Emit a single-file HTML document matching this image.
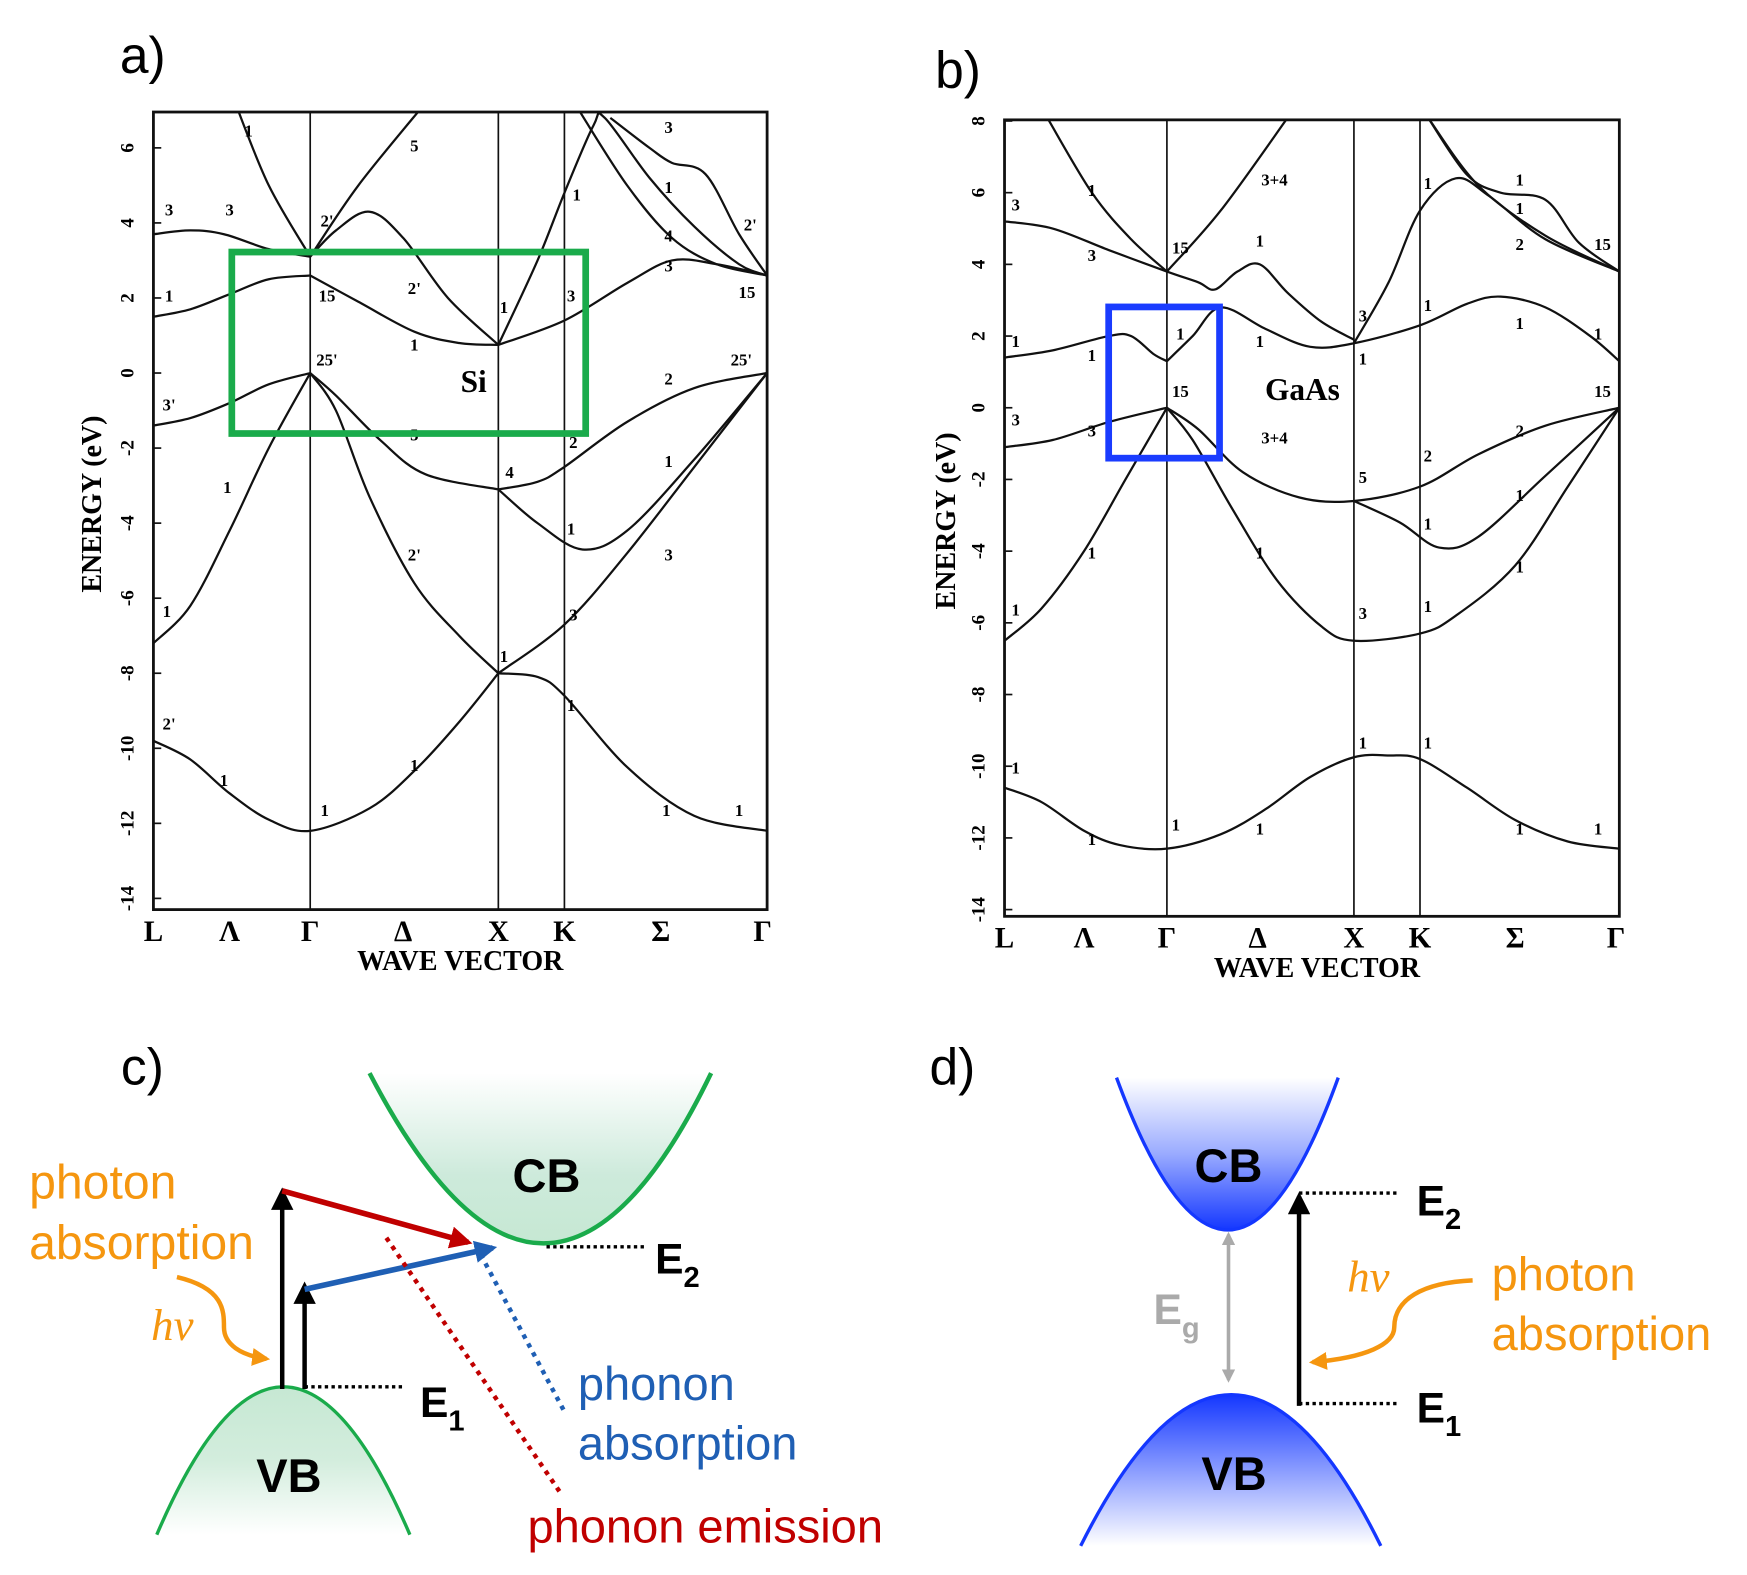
<!DOCTYPE html>
<html><head><meta charset="utf-8">
<style>
html,body{margin:0;padding:0;background:#fff;}
svg{display:block;}
.serif{font-family:"Liberation Serif",serif;font-weight:bold;}
.sans{font-family:"Liberation Sans",sans-serif;}
.hv{font-family:"Liberation Serif",serif;font-style:italic;font-weight:normal;}
</style></head>
<body>
<svg id="fig" width="1747" height="1575" viewBox="0 0 1560 1406" preserveAspectRatio="none" xmlns="http://www.w3.org/2000/svg">
<defs>
<linearGradient id="gCB" x1="0" y1="0" x2="0" y2="1"><stop offset="0" stop-color="#fff"/><stop offset="0.6" stop-color="#cdeadb"/><stop offset="1" stop-color="#c6e8d3"/></linearGradient>
<linearGradient id="gVB" x1="0" y1="0" x2="0" y2="1"><stop offset="0" stop-color="#c6e8d3"/><stop offset="0.5" stop-color="#d3eddd"/><stop offset="1" stop-color="#fff"/></linearGradient>
<linearGradient id="bCB" x1="0" y1="0" x2="0" y2="1"><stop offset="0" stop-color="#fff"/><stop offset="0.5" stop-color="#9aabff"/><stop offset="1" stop-color="#1437ff"/></linearGradient>
<linearGradient id="bVB" x1="0" y1="0" x2="0" y2="1"><stop offset="0" stop-color="#1437ff"/><stop offset="0.5" stop-color="#8a9cff"/><stop offset="1" stop-color="#fff"/></linearGradient>
<clipPath id="clipA"><rect x="137" y="100" width="548" height="712"/></clipPath>
<clipPath id="clipB"><rect x="897" y="107" width="549" height="711"/></clipPath>
<marker id="arrK" viewBox="0 0 10 10" refX="8" refY="5" markerWidth="5" markerHeight="5" orient="auto"><path d="M0,0L10,5L0,10z" fill="#000"/></marker>
<marker id="arrR" viewBox="0 0 10 10" refX="8" refY="5" markerWidth="4" markerHeight="4" orient="auto"><path d="M0,0L10,5L0,10z" fill="#c00000"/></marker>
<marker id="arrB" viewBox="0 0 10 10" refX="8" refY="5" markerWidth="4" markerHeight="4" orient="auto"><path d="M0,0L10,5L0,10z" fill="#1f5fb4"/></marker>
<marker id="arrO" viewBox="0 0 10 10" refX="8" refY="5" markerWidth="4" markerHeight="4" orient="auto"><path d="M0,0L10,5L0,10z" fill="#f5960f"/></marker>
<marker id="arrG" viewBox="0 0 10 10" refX="8" refY="5" markerWidth="4" markerHeight="4" orient="auto"><path d="M0,0L10,5L0,10z" fill="#aaa"/></marker>
</defs>

<text x="107" y="65" class="sans" font-size="46">a)</text>
<text x="835" y="78" class="sans" font-size="46">b)</text>
<text x="108" y="968" class="sans" font-size="46">c)</text>
<text x="830" y="968" class="sans" font-size="46">d)</text>

<g id="chartA"></g>
<g id="chartB"></g>

<g>
<path d="M330,958 Q488,1262 635,958 Z" fill="url(#gCB)" stroke="none"/>
<path d="M330,958 Q488,1262 635,958" fill="none" stroke="#1aab4b" stroke-width="4"/>
<path d="M140,1370 Q253,1106 366,1370 Z" fill="url(#gVB)" stroke="none"/>
<path d="M140,1370 Q253,1106 366,1370" fill="none" stroke="#1aab4b" stroke-width="3"/>
<text x="488" y="1064" text-anchor="middle" class="sans" font-weight="bold" font-size="42">CB</text>
<text x="258" y="1332" text-anchor="middle" class="sans" font-weight="bold" font-size="42">VB</text>
<line x1="252" y1="1240" x2="252" y2="1064" stroke="#000" stroke-width="4" marker-end="url(#arrK)"/>
<line x1="272" y1="1240" x2="272" y2="1148" stroke="#000" stroke-width="4" marker-end="url(#arrK)"/>
<line x1="272" y1="1238" x2="362" y2="1238" stroke="#000" stroke-width="3" stroke-dasharray="3,3"/>
<line x1="488" y1="1113" x2="578" y2="1113" stroke="#000" stroke-width="3" stroke-dasharray="3,3"/>
<text x="375" y="1265" class="sans" font-weight="bold" font-size="38">E<tspan font-size="26" dy="12">1</tspan></text>
<text x="585" y="1137" class="sans" font-weight="bold" font-size="38">E<tspan font-size="26" dy="12">2</tspan></text>
<line x1="252" y1="1063" x2="418" y2="1109" stroke="#c00000" stroke-width="5" marker-end="url(#arrR)"/>
<line x1="272" y1="1151" x2="440" y2="1114" stroke="#1f5fb4" stroke-width="5" marker-end="url(#arrB)"/>
<line x1="345" y1="1105" x2="500" y2="1332" stroke="#c00000" stroke-width="4" stroke-dasharray="4,5"/>
<line x1="425" y1="1112" x2="505" y2="1262" stroke="#1f5fb4" stroke-width="4" stroke-dasharray="4,5"/>
<text x="26" y="1070" class="sans" font-size="43" fill="#f5960f">photon</text>
<text x="26" y="1124" class="sans" font-size="43" fill="#f5960f">absorption</text>
<text x="135" y="1196" class="hv" font-size="40" fill="#f5960f">hν</text>
<path d="M158,1140 C200,1150 200,1170 200,1185 C200,1200 215,1210 238,1213" fill="none" stroke="#f5960f" stroke-width="4" marker-end="url(#arrO)"/>
<text x="516" y="1250" class="sans" font-size="42" fill="#1f5fb4">phonon</text>
<text x="516" y="1303" class="sans" font-size="42" fill="#1f5fb4">absorption</text>
<text x="471" y="1377" class="sans" font-size="42" fill="#c00000">phonon emission</text>
</g>

<g>
<path d="M997,962 Q1097,1234 1195,962 Z" fill="url(#bCB)"/>
<path d="M997,962 Q1097,1234 1195,962" fill="none" stroke="#1437ff" stroke-width="3"/>
<path d="M965,1380 Q1100,1110 1233,1380 Z" fill="url(#bVB)"/>
<path d="M965,1380 Q1100,1110 1233,1380" fill="none" stroke="#1437ff" stroke-width="3"/>
<text x="1097" y="1055" text-anchor="middle" class="sans" font-weight="bold" font-size="42">CB</text>
<text x="1102" y="1330" text-anchor="middle" class="sans" font-weight="bold" font-size="42">VB</text>
<line x1="1097" y1="1110" x2="1097" y2="1232" stroke="#aaa" stroke-width="3" marker-end="url(#arrG)"/>
<line x1="1097" y1="1225" x2="1097" y2="1102" stroke="#aaa" stroke-width="3" marker-end="url(#arrG)"/>
<text x="1030" y="1182" class="sans" font-weight="bold" font-size="38" fill="#aaa">E<tspan font-size="26" dy="12">g</tspan></text>
<line x1="1160" y1="1255" x2="1160" y2="1068" stroke="#000" stroke-width="4" marker-end="url(#arrK)"/>
<line x1="1160" y1="1065" x2="1248" y2="1065" stroke="#000" stroke-width="3" stroke-dasharray="3,3"/>
<line x1="1160" y1="1253" x2="1248" y2="1253" stroke="#000" stroke-width="3" stroke-dasharray="3,3"/>
<text x="1265" y="1085" class="sans" font-weight="bold" font-size="38">E<tspan font-size="26" dy="12">2</tspan></text>
<text x="1265" y="1270" class="sans" font-weight="bold" font-size="38">E<tspan font-size="26" dy="12">1</tspan></text>
<text x="1203" y="1153" class="hv" font-size="40" fill="#f5960f">hν</text>
<text x="1332" y="1152" class="sans" font-size="42" fill="#f5960f">photon</text>
<text x="1332" y="1205" class="sans" font-size="42" fill="#f5960f">absorption</text>
<path d="M1315,1143 C1270,1145 1245,1160 1245,1185 C1245,1200 1220,1212 1172,1216" fill="none" stroke="#f5960f" stroke-width="4" marker-end="url(#arrO)"/>
</g>
</svg>

<script>
const siTicksE = [-14,-12,-10,-8,-6,-4,-2,0,2,4,6];
const siKLabels = ["L","Λ","Γ","Δ","X","K","Σ","Γ"];
const siKPos = [0,68,140,223,308,367,453,544];
const siVLines = [140,308,367];
const siBands = [
 [[0,-9.8],[33,-10.3],[68,-11.2],[103,-11.9],[140,-12.2],[193,-11.6],[233,-10.6],[273,-9.3],[308,-8.0]],
 [[308,-8.0],[343,-8.1],[367,-8.6],[423,-10.5],[483,-11.8],[548,-12.2]],
 [[0,-7.2],[33,-6.2],[68,-4.2],[103,-2.0],[140,0]],
 [[140,0],[163,-1.0],[193,-3.3],[233,-5.6],[273,-7.0],[308,-8.0]],
 [[308,-8],[367,-6.7],[423,-4.8],[483,-2.5],[548,0]],
 [[0,-1.4],[33,-1.2],[68,-0.8],[103,-0.3],[140,0]],
 [[140,0],[163,-0.6],[203,-1.8],[243,-2.7],[308,-3.1]],
 [[308,-3.1],[343,-2.9],[367,-2.5],[423,-1.3],[483,-0.4],[548,0]],
 [[308,-3.1],[343,-4.0],[383,-4.7],[423,-4.2],[483,-2.3],[548,0]],
 [[0,1.5],[33,1.7],[68,2.1],[103,2.5],[140,2.6]],
 [[140,2.6],[183,1.9],[233,1.1],[273,0.8],[308,0.75]],
 [[308,0.75],[367,1.4],[423,2.4],[463,3.0],[503,2.9],[548,2.6]],
 [[308,0.75],[343,3.0],[367,4.8],[393,6.6],[403,6.8],[443,5.2],[483,3.9],[523,2.9],[548,2.6]],
 [[378,7.1],[423,5.0],[463,3.6],[503,2.9],[548,2.6]],
 [[408,6.8],[443,6.0],[463,5.6],[493,5.3],[523,3.7],[548,2.6]],
 [[0,3.7],[33,3.8],[63,3.7],[103,3.3],[140,3.1]],
 [[140,3.1],[163,3.8],[193,4.3],[223,3.6],[263,2.0],[308,0.75]],
 [[73,7.2],[103,5],[140,3.1]],
 [[140,3.1],[183,5],[243,7.2]]
];
const siLabels = [["1",85,6.3],["5",233,5.9],["3",14,4.2],["3",68,4.2],["2'",155,3.9],["1",14,1.9],["15",155,1.9],["2'",233,2.1],["1",313,1.6],["3",373,1.9],["1",378,4.6],["3",460,6.4],["1",460,4.8],["4",460,3.5],["3",460,2.7],["2'",533,3.8],["15",530,2.0],["1",233,0.6],["25'",155,0.2],["2",460,-0.3],["25'",525,0.2],["3'",14,-1.0],["5",233,-1.8],["2",375,-2.0],["4",318,-2.8],["1",460,-2.5],["1",66,-3.2],["1",373,-4.3],["2'",233,-5.0],["3",460,-5.0],["1",12,-6.5],["3",375,-6.6],["1",313,-7.7],["1",373,-9.0],["2'",14,-9.5],["1",63,-11.0],["1",233,-10.6],["1",153,-11.8],["1",458,-11.8],["1",523,-11.8]];

const gaTicksE = [-14,-12,-10,-8,-6,-4,-2,0,2,4,6,8];
const gaKLabels = ["L","Λ","Γ","Δ","X","K","Σ","Γ"];
const gaKPos = [0,71,145,226,312,371,456,546];
const gaVLines = [145,312,371];
const gaBands = [
 [[0,-10.6],[33,-11.0],[71,-11.8],[103,-12.2],[145,-12.3],[193,-11.9],[233,-11.2],[273,-10.3],[312,-9.75],[343,-9.7],[371,-9.8],[413,-10.6],[456,-11.5],[503,-12.1],[549,-12.3]],
 [[0,-6.5],[33,-5.6],[71,-4.0],[108,-2.0],[145,0]],
 [[145,0],[168,-0.9],[203,-2.8],[243,-4.8],[283,-6.1],[312,-6.5],[371,-6.3],[403,-5.8],[456,-4.4],[503,-2.2],[549,0]],
 [[0,-1.1],[43,-0.9],[93,-0.4],[145,0]],
 [[145,0],[173,-0.6],[213,-1.8],[263,-2.5],[312,-2.6],[371,-2.2],[423,-1.3],[483,-0.5],[549,0]],
 [[312,-2.6],[353,-3.2],[388,-3.9],[423,-3.6],[483,-1.9],[549,0]],
 [[0,1.4],[43,1.6],[93,2.0],[113,2.0],[133,1.5],[145,1.3]],
 [[145,1.3],[168,2.0],[193,2.8],[233,2.2],[273,1.7],[312,1.8],[371,2.3],[413,2.9],[443,3.1],[483,2.8],[523,2.0],[549,1.3]],
 [[312,1.8],[343,3.5],[371,5.5],[403,6.4],[433,5.9],[483,4.7],[549,3.8]],
 [[0,5.2],[43,5.0],[93,4.4],[145,3.8],[173,3.5],[188,3.3],[208,3.8],[228,4.0],[253,3.2],[283,2.4],[312,1.9]],
 [[38,8.1],[78,6],[113,4.7],[145,3.8]],
 [[145,3.8],[193,5.5],[253,8.1]],
 [[378,8.1],[413,6.5],[443,6.0],[483,5.8],[513,4.6],[549,3.8]],
 [[378,8.1],[423,6.2],[483,4.8],[549,3.8]]
];
const gaLabels = [["1",78,5.9],["3+4",241,6.2],["3",10,5.5],["3",78,4.1],["15",157,4.3],["1",228,4.5],["1",378,6.1],["1",460,6.2],["1",460,5.4],["2",460,4.4],["15",534,4.4],["1",10,1.7],["1",78,1.3],["1",157,1.9],["1",228,1.7],["3",320,2.4],["1",320,1.2],["1",378,2.7],["1",460,2.2],["1",530,1.9],["15",157,0.3],["15",534,0.3],["3",10,-0.5],["3",78,-0.8],["3+4",241,-1.0],["2",460,-0.8],["2",378,-1.5],["5",320,-2.1],["1",460,-2.6],["1",378,-3.4],["1",78,-4.2],["1",228,-4.2],["1",460,-4.6],["1",10,-5.8],["3",320,-5.9],["1",378,-5.7],["1",10,-10.2],["1",320,-9.5],["1",378,-9.5],["1",78,-12.2],["1",153,-11.8],["1",228,-11.9],["1",460,-11.9],["1",530,-11.9]];

const NS="http://www.w3.org/2000/svg";
function mk(tag,attrs,parent){const e=document.createElementNS(NS,tag);for(const k in attrs)e.setAttribute(k,attrs[k]);parent.appendChild(e);return e;}
function spline(pts){
  let d="M"+pts[0][0].toFixed(1)+","+pts[0][1].toFixed(1);
  for(let i=0;i<pts.length-1;i++){
    const p0=pts[i-1]||pts[i],p1=pts[i],p2=pts[i+1],p3=pts[i+2]||p2;
    const c1=[p1[0]+(p2[0]-p0[0])/6,p1[1]+(p2[1]-p0[1])/6];
    const c2=[p2[0]-(p3[0]-p1[0])/6,p2[1]-(p3[1]-p1[1])/6];
    d+="C"+c1[0].toFixed(1)+","+c1[1].toFixed(1)+" "+c2[0].toFixed(1)+","+c2[1].toFixed(1)+" "+p2[0].toFixed(1)+","+p2[1].toFixed(1);
  }
  return d;
}
function drawChart(g,cfg){
  const xs=k=>cfg.x0+k, ys=E=>cfg.yZero-E*cfg.pxPerEV;
  const box=mk("rect",{x:cfg.x0,y:cfg.y0,width:cfg.w,height:cfg.h,fill:"none",stroke:"#111","stroke-width":2.5},g);
  
  
  cfg.vlines.forEach(k=>{
    const l=mk("line",{x1:xs(k),x2:xs(k),y1:cfg.y0,y2:cfg.y0+cfg.h,stroke:"#111","stroke-width":1.5},g);
    
    
  });
  const bg=mk("g",{"clip-path":"url(#"+cfg.clip+")"},g);
  cfg.bands.forEach(b=>{
    const p=mk("path",{d:spline(b.map(q=>[xs(q[0]),ys(q[1])])),fill:"none",stroke:"#111","stroke-width":2},bg);
    
    
  });
  cfg.ticks.forEach(E=>{
    const y=ys(E);
    mk("line",{x1:cfg.x0,x2:cfg.x0+7,y1:y,y2:y,stroke:"#111","stroke-width":1.5},g);
    const t=mk("text",{x:cfg.x0-24,y:y,"text-anchor":"middle","font-size":17,class:"serif",transform:"rotate(-90 "+(cfg.x0-24)+" "+y+")",dy:"6"},g);
    t.textContent=E;
    
    
  });
  cfg.klabels.forEach((s,i)=>{
    const t=mk("text",{x:xs(cfg.kpos[i]),y:cfg.y0+cfg.h+28,"text-anchor":"middle","font-size":26,class:"serif"},g);
    t.textContent=s;
    
    
  });
  cfg.labels.forEach(l=>{
    const t=mk("text",{x:xs(l[1]),y:ys(l[2]),"font-size":15,class:"serif","text-anchor":"middle"},g);
    t.textContent=l[0];
    
    
  });
}
drawChart(document.getElementById("chartA"),{x0:137,y0:100,w:548,h:712,yZero:333,pxPerEV:33.5,clip:"clipA",bands:siBands,ticks:siTicksE,klabels:siKLabels,kpos:siKPos,vlines:siVLines,labels:siLabels});
drawChart(document.getElementById("chartB"),{x0:897,y0:107,w:549,h:711,yZero:364,pxPerEV:32,clip:"clipB",bands:gaBands,ticks:gaTicksE,klabels:gaKLabels,kpos:gaKPos,vlines:gaVLines,labels:gaLabels});

const svg=document.getElementById("fig");
function txt(x,y,s,size,name,rot){
  const t=mk("text",{x:x,y:y,"font-size":size,class:"serif","text-anchor":"middle"},svg);
  if(rot) t.setAttribute("transform","rotate(-90 "+x+" "+y+")");
  t.textContent=s;
  
  
}
txt(90,450,"ENERGY  (eV)",25,"y-axis-title-a",true);
txt(853,465,"ENERGY  (eV)",25,"y-axis-title-b",true);
txt(411,866,"WAVE  VECTOR",25,"x-axis-title-a");
txt(1176,872,"WAVE  VECTOR",25,"x-axis-title-b");
txt(423,350,"Si",28,"material-label-si");
txt(1163,357,"GaAs",28,"material-label-gaas");
let r=mk("rect",{x:207,y:225,width:316,height:162,fill:"none",stroke:"#1aab4b","stroke-width":6},svg);


r=mk("rect",{x:990,y:274,width:99,height:135,fill:"none",stroke:"#1a3cff","stroke-width":6},svg);


</script>
</body></html>
